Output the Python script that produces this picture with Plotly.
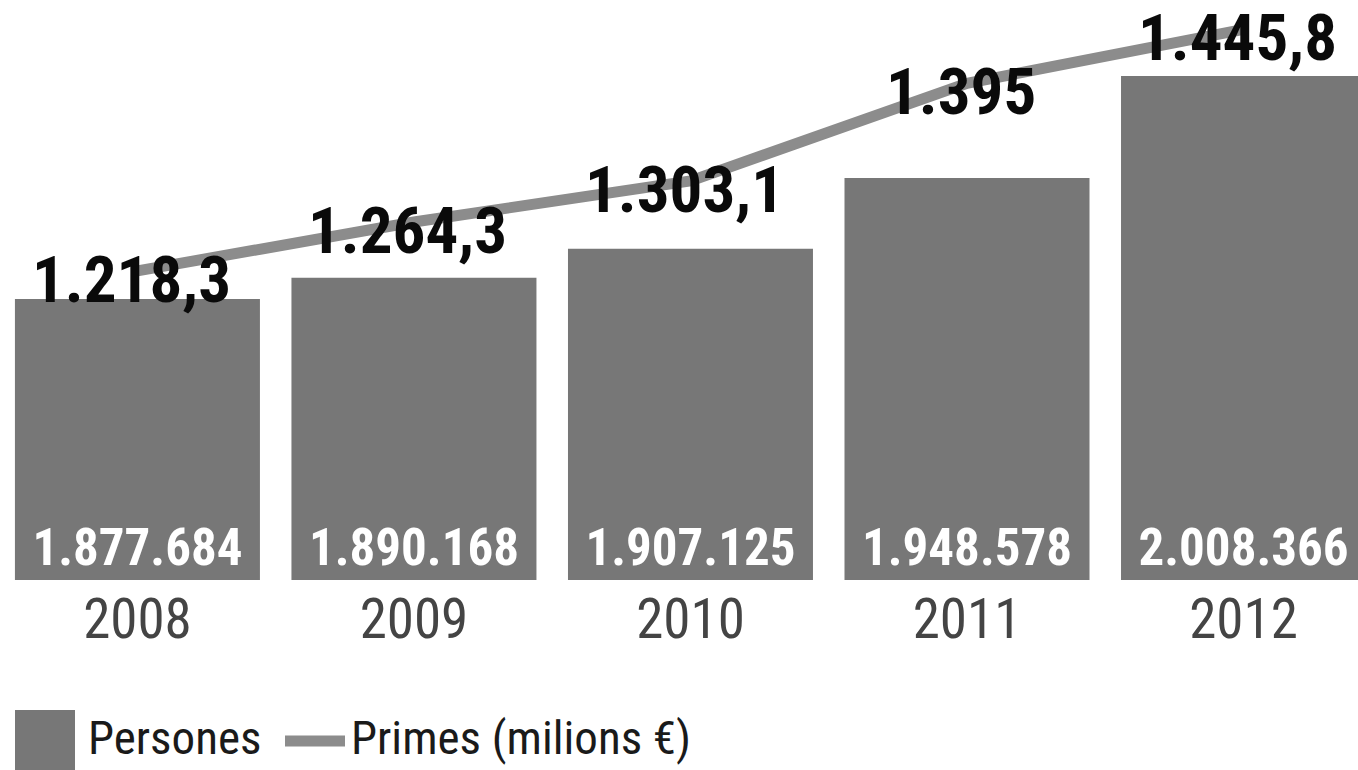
import plotly.graph_objects as go

# ---- data ----
years = ["2008", "2009", "2010", "2011", "2012"]
persones = [1877684, 1890168, 1907125, 1948578, 2008366]
primes = [1218.3, 1264.3, 1303.1, 1395, 1445.8]

# ---- style / layout constants ----
W, H = 1358, 770
PLOT_BOTTOM_PX = 580
BAR_COLOR = "#777777"
LINE_COLOR = "#8c8c8c"
NARROW = "Liberation Sans Narrow, Roboto Condensed, DejaVu Sans Condensed, Arial Narrow, sans-serif"
Y1_RANGE = [1713080, 2052950]
Y2_RANGE = [927.2, 1473.4]
X_RANGE = [-0.497, 4.414]


def fmt_persones(v):
    return f"{v:,}".replace(",", ".")


def fmt_primes(v):
    s = f"{v:,.1f}"
    if s.endswith(".0"):
        s = s[:-2]
    return s.replace(",", "#").replace(".", ",").replace("#", ".")


xs = list(range(len(years)))
base = Y1_RANGE[0]

fig = go.Figure()

fig.add_trace(go.Bar(
    x=xs,
    y=[v - base for v in persones],
    base=base,
    marker=dict(color=BAR_COLOR, line=dict(width=0)),
    text=[f"<b>{fmt_persones(v)}</b>" for v in persones],
    textposition="inside",
    insidetextanchor="start",
    textangle=0,
    textfont=dict(family=NARROW, size=51, color="white"),
    name="Persones",
    showlegend=False,
    cliponaxis=True,
))

fig.add_trace(go.Scatter(
    x=xs,
    y=primes,
    yaxis="y2",
    mode="lines",
    line=dict(color=LINE_COLOR, width=11),
    name="Primes (milions €)",
    showlegend=False,
))

annotations = []
for xi, v in zip(xs, primes):
    annotations.append(dict(
        x=xi, y=v, xref="x", yref="y2",
        text=f"<b>{fmt_primes(v)}</b>",
        showarrow=False,
        xanchor="center", yanchor="middle",
        xshift=-6, yshift=-9,
        font=dict(family=NARROW, size=65, color="#0a0a0a"),
    ))


def px_x(px):
    return px / W


def px_y(py):
    return (PLOT_BOTTOM_PX - py) / PLOT_BOTTOM_PX


shapes = [
    dict(type="rect", xref="paper", yref="paper",
         x0=px_x(15), x1=px_x(75), y0=px_y(770), y1=px_y(710),
         fillcolor=BAR_COLOR, line=dict(width=0)),
    dict(type="line", xref="paper", yref="paper",
         x0=px_x(285), x1=px_x(345), y0=px_y(741), y1=px_y(741),
         line=dict(color=LINE_COLOR, width=11)),
]

annotations.append(dict(
    x=px_x(86), y=px_y(737), xref="paper", yref="paper",
    text="Persones", showarrow=False, xanchor="left", yanchor="middle",
    font=dict(family=NARROW, size=47, color="#1a1a1a"),
))
annotations.append(dict(
    x=px_x(349), y=px_y(737), xref="paper", yref="paper",
    text="Primes (milions €)", showarrow=False, xanchor="left", yanchor="middle",
    font=dict(family=NARROW, size=47, color="#1a1a1a"),
))

fig.update_layout(
    width=W, height=H,
    margin=dict(l=0, r=0, t=0, b=H - PLOT_BOTTOM_PX, pad=0),
    paper_bgcolor="white",
    plot_bgcolor="white",
    bargap=0.114,
    showlegend=False,
    xaxis=dict(
        range=X_RANGE,
        tickmode="array",
        tickvals=xs,
        ticktext=years,
        tickfont=dict(family=NARROW, size=55, color="#444444"),
        showgrid=False, zeroline=False, showline=False,
        ticks="", ticklabelstandoff=2,
    ),
    yaxis=dict(
        range=Y1_RANGE, visible=False, showgrid=False, zeroline=False,
    ),
    yaxis2=dict(
        range=Y2_RANGE, overlaying="y", visible=False, showgrid=False, zeroline=False,
    ),
    annotations=annotations,
    shapes=shapes,
)

fig.write_html("out.html")
